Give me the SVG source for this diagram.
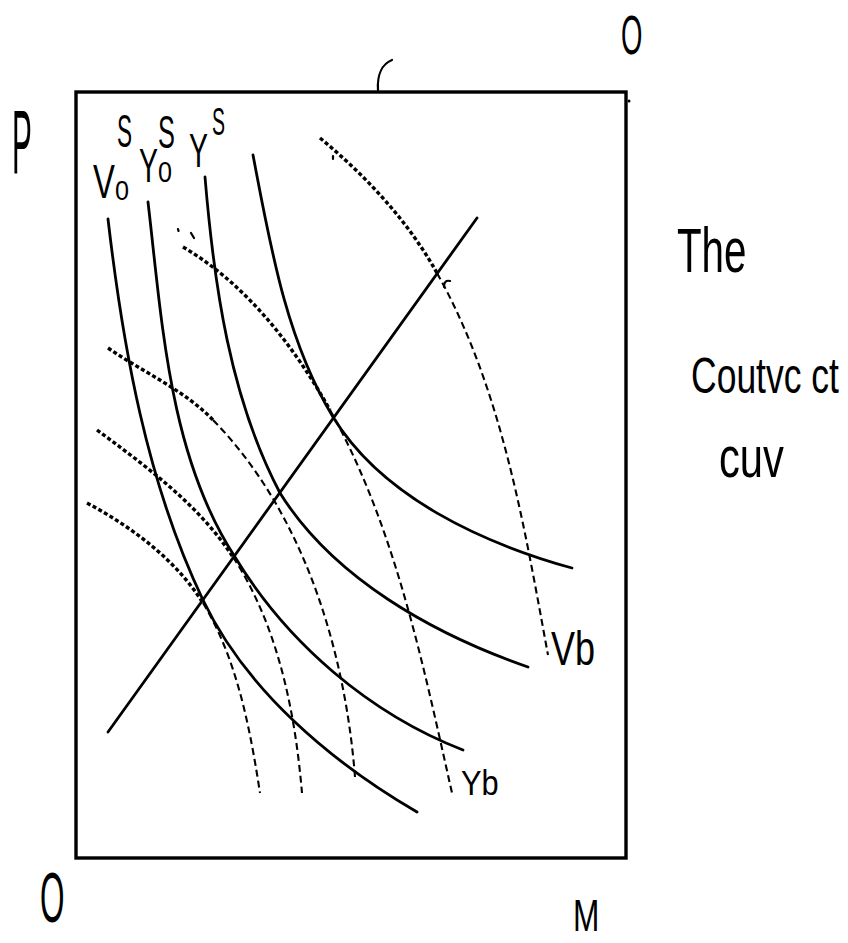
<svg xmlns="http://www.w3.org/2000/svg" width="848" height="943" viewBox="0 0 848 943">
<style>
.t{font-family:"Liberation Sans","DejaVu Sans",sans-serif;fill:#000}
.solid{fill:none;stroke:#000;stroke-width:2.8;stroke-linecap:round}
.dot{fill:none;stroke:#000;stroke-width:3.4;stroke-dasharray:4 2.5}
.dash{fill:none;stroke:#000;stroke-width:2.1;stroke-dasharray:7 4}
.mark{fill:none;stroke:#000;stroke-width:2.2;stroke-linecap:round}
</style>
<rect width="848" height="943" fill="#fff"/>
<g id="box">
<rect x="76" y="92" width="550" height="766" fill="none" stroke="#000" stroke-width="3.4"/>
</g>
<g id="curves">
<path id="c1" class="solid" d="M108,219 C123,348 147,483 203,600 C246,690 331,762 417,812"/>
<path id="c2" class="solid" d="M148,202 C162,321 169,456 235,557 C287,643 370,714 463,750"/>
<path id="c3" class="solid" d="M205,177 C214,285 230,398 280,493 C333,578 433,634 528,667"/>
<path id="c4" class="solid" d="M253,155 C270,244 286,340 333,417 C382,497 482,543 572,568"/>
<path id="diag" class="solid" d="M108,732 L477,218"/>
<path class="dot" d="M183,247 C246,284 294,346 330,410"/>
<path class="dash" d="M330,410 C395,526 423,664 452,793"/>
<path class="dot" d="M108,348 C143,372 184,390 213,420"/>
<path class="dash" d="M213,420 C303,512 345,649 355,777"/>
<path class="dot" d="M97,430 C147,467 199,505 233,557"/>
<path class="dash" d="M233,557 C278,626 295,711 302,793"/>
<path class="dot" d="M87,503 C132,527 176,560 203,603"/>
<path class="dash" d="M203,603 C237,659 250,728 260,793"/>
<path class="dot" d="M320,138 C366,176 408,221 437,273"/>
<path class="dash" d="M437,273 C502,389 524,525 548,655"/>
<path class="mark" d="M178,229 L178.5,231 M191,233 L194,238 M333,156 L333,159 M444,287 C444,282 446,280 450,281"/>
<path class="mark" d="M378,90 C377,75 382,64 392,60"/>
<circle cx="629" cy="101" r="1.5" fill="#000"/>
</g>
<g id="labels">
<text class="t" font-size="90" transform="translate(12,173) scale(0.33,1)">P</text>
<text class="t" font-size="55" transform="translate(621,54) scale(0.5,1)">O</text>
<text class="t" font-size="70" transform="translate(40,922) scale(0.45,1)">O</text>
<text class="t" font-size="44" transform="translate(573,931) scale(0.72,1)">M</text>
<text class="t" font-size="49" transform="translate(93,198) scale(0.67,1)">V</text>
<text class="t" font-size="28" transform="translate(115,200) scale(0.9,1)">0</text>
<text class="t" font-size="47" transform="translate(117,147) scale(0.48,1)">S</text>
<text class="t" font-size="49" transform="translate(139,182) scale(0.58,1)">Y</text>
<text class="t" font-size="30" transform="translate(158,182) scale(0.84,1)">0</text>
<text class="t" font-size="46" transform="translate(158,148) scale(0.55,1)">S</text>
<text class="t" font-size="49" transform="translate(189,167) scale(0.58,1)">Y</text>
<text class="t" font-size="39" transform="translate(212,135) scale(0.5,1)">S</text>
<text class="t" font-size="63" transform="translate(677,272) scale(0.64,1)">The</text>
<text class="t" font-size="50" transform="translate(691,393) scale(0.71,1)">Coutvc ct</text>
<text class="t" font-size="58" transform="translate(719,477) scale(0.72,1)">cuv</text>
<text class="t" font-size="35" transform="translate(461,795) scale(0.88,1)">Yb</text>
<text class="t" font-size="48" transform="translate(551,665) scale(0.75,1)">Vb</text>
</g>
</svg>
